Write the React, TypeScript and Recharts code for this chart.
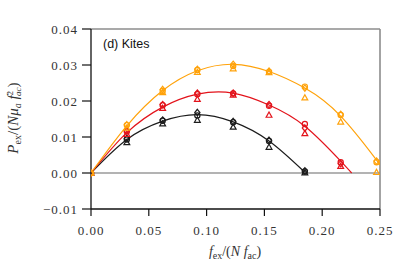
import React from 'react'
import {
  ComposedChart,
  Line,
  Scatter,
  XAxis,
  YAxis,
  ReferenceLine,
} from 'recharts'

// excitation frequencies of the measured points
const fex = [0, 0.031, 0.062, 0.092, 0.123, 0.154, 0.185, 0.216, 0.247]

// measured power, three runs per kite count
const orangeCircle = [0, 0.0133, 0.0228, 0.0286, 0.0297, 0.0281, 0.024, 0.0161, 0.003]
const orangeDiamond = [0, 0.0134, 0.0232, 0.0288, 0.0302, 0.0283, 0.0236, 0.0163, 0.0033]
const orangeTriangle = [0, 0.0125, 0.0224, 0.028, 0.029, 0.0279, 0.0209, 0.0142, 0.0002]

const redCircle = [0, 0.0115, 0.0188, 0.0219, 0.0221, 0.0187, 0.0136, 0.003]
const redDiamond = [0, 0.0117, 0.019, 0.0222, 0.0222, 0.019, 0.0125, 0.0026]
const redTriangle = [0, 0.0108, 0.018, 0.0205, 0.0217, 0.0161, 0.011, 0.0019]

const blackCircle = [0, 0.0093, 0.0145, 0.016, 0.0141, 0.0089, 0.0004]
const blackDiamond = [0, 0.0096, 0.0147, 0.0168, 0.0143, 0.0091, 0.0006]
const blackTriangle = [0, 0.0085, 0.0137, 0.0147, 0.0128, 0.0072, 0.0001]

// fitted curves
const orangeFitX = [0, 0.031, 0.062, 0.092, 0.123, 0.154, 0.185, 0.216, 0.247, 0.25]
const orangeFitY = [0, 0.0131, 0.0229, 0.0284, 0.0302, 0.0282, 0.0236, 0.0158, 0.0036, 0.0024]
const redFitX = [0, 0.031, 0.062, 0.092, 0.123, 0.154, 0.185, 0.216, 0.2255]
const redFitY = [0, 0.0112, 0.0183, 0.0219, 0.0222, 0.0189, 0.013, 0.0033, 0]
const blackFitX = [0, 0.031, 0.062, 0.092, 0.123, 0.154, 0.185]
const blackFitY = [0, 0.0093, 0.0144, 0.0162, 0.0142, 0.0089, 0.0002]

const xTicks = [0, 0.05, 0.1, 0.15, 0.2, 0.25]
const yTicks = [-0.01, 0, 0.01, 0.02, 0.03, 0.04]

const ORANGE = '#ffa20a'
const RED = '#e3131b'
const BLACK = '#1c1c1c'

const pts = (ys: number[], xs: number[] = fex) => ys.map((y, i) => ({ x: xs[i], y }))

const tickFont = { fontFamily: 'Liberation Serif', fontSize: 13, fill: '#333', letterSpacing: 1 }

const fmt = (v: number) => (v < 0 ? '\u2212' + Math.abs(v).toFixed(2) : v.toFixed(2))

const circleShape = (color: string) => (p: any) => (
  <circle cx={p.cx} cy={p.cy} r={2.6} fill="none" stroke={color} strokeWidth={1.2} />
)
const diamondShape = (color: string) => (p: any) => (
  <path
    d={`M${p.cx},${p.cy - 3.2}L${p.cx + 2.6},${p.cy}L${p.cx},${p.cy + 3.2}L${p.cx - 2.6},${p.cy}Z`}
    fill="none"
    stroke={color}
    strokeWidth={1.2}
  />
)
const triangleShape = (color: string) => (p: any) => (
  <path
    d={`M${p.cx},${p.cy - 3}L${p.cx + 2.9},${p.cy + 2.2}L${p.cx - 2.9},${p.cy + 2.2}Z`}
    fill="none"
    stroke={color}
    strokeWidth={1.2}
  />
)

const series = [
  { name: 'bc', data: pts(blackCircle), shape: circleShape(BLACK) },
  { name: 'bd', data: pts(blackDiamond), shape: diamondShape(BLACK) },
  { name: 'bt', data: pts(blackTriangle), shape: triangleShape(BLACK) },
  { name: 'rc', data: pts(redCircle), shape: circleShape(RED) },
  { name: 'rd', data: pts(redDiamond), shape: diamondShape(RED) },
  { name: 'rt', data: pts(redTriangle), shape: triangleShape(RED) },
  { name: 'oc', data: pts(orangeCircle), shape: circleShape(ORANGE) },
  { name: 'od', data: pts(orangeDiamond), shape: diamondShape(ORANGE) },
  { name: 'ot', data: pts(orangeTriangle), shape: triangleShape(ORANGE) },
]

const fits = [
  { name: 'fit-black', data: pts(blackFitY, blackFitX), color: BLACK },
  { name: 'fit-red', data: pts(redFitY, redFitX), color: RED },
  { name: 'fit-orange', data: pts(orangeFitY, orangeFitX), color: ORANGE },
]

export default function App() {
  const serif = 'Liberation Serif'
  return (
    <div style={{ position: 'absolute', left: 0, top: 0, width: 395, height: 269, background: '#fff' }}>
      <ComposedChart width={395} height={269} margin={{ top: 29, right: 15, bottom: 30, left: 31 }}>
        <XAxis
          type="number"
          dataKey="x"
          domain={[0, 0.25]}
          ticks={xTicks}
          tickFormatter={fmt}
          height={30}
          tick={tickFont}
          tickSize={7}
          tickMargin={10}
          axisLine={{ stroke: '#111', strokeWidth: 1.3 }}
          tickLine={{ stroke: '#111', strokeWidth: 1.2 }}
          allowDataOverflow
        />
        <YAxis
          type="number"
          dataKey="y"
          domain={[-0.01, 0.04]}
          ticks={yTicks}
          tickFormatter={fmt}
          width={60}
          tick={tickFont}
          tickSize={9}
          tickMargin={4}
          axisLine={{ stroke: '#111', strokeWidth: 1.3 }}
          tickLine={{ stroke: '#111', strokeWidth: 1.2 }}
          allowDataOverflow
        />
        <ReferenceLine y={0} stroke="#9a9a9a" strokeWidth={1.5} />
        <ReferenceLine y={0.04} stroke="#8c8c8c" strokeWidth={1.6} />
        <ReferenceLine x={0.25} stroke="#8c8c8c" strokeWidth={1.6} />
        {fits.map((f) => (
          <Line
            key={f.name}
            data={f.data}
            dataKey="y"
            type="natural"
            stroke={f.color}
            strokeWidth={1.2}
            dot={false}
            activeDot={false}
            isAnimationActive={false}
          />
        ))}
        {series.map((s) => (
          <Scatter
            key={s.name}
            data={s.data}
            dataKey="y"
            shape={s.shape}
            isAnimationActive={false}
          />
        ))}
      </ComposedChart>
      <svg
        width={395}
        height={269}
        style={{ position: 'absolute', left: 0, top: 0, pointerEvents: 'none' }}
      >
        <text x={103} y={48} fontFamily="Liberation Sans" fontSize={12.5} fill="#111">
          (d)  Kites
        </text>
        <text x={235} y={256} textAnchor="middle" fontFamily={serif} fontSize={14} fill="#333">
          <tspan fontStyle="italic">f</tspan>
          <tspan fontSize={10} dy={3}>ex</tspan>
          <tspan dy={-3}>/(</tspan>
          <tspan fontStyle="italic">N f</tspan>
          <tspan fontSize={10} dy={3}>ac</tspan>
          <tspan dy={-3}>)</tspan>
        </text>
        <text
          x={18}
          y={118}
          transform="rotate(-90, 18, 118)"
          textAnchor="middle"
          fontFamily={serif}
          fontSize={15}
          fill="#333"
        >
          <tspan fontStyle="italic">P</tspan>
          <tspan fontSize={10} dy={3}>ex</tspan>
          <tspan dy={-3}>/(</tspan>
          <tspan fontStyle="italic">Nμ</tspan>
          <tspan fontSize={10} fontStyle="italic" dy={3}>a</tspan>
          <tspan fontStyle="italic" dy={-3}> f</tspan>
          <tspan fontSize={9} dy={-5}>2</tspan>
          <tspan fontSize={9} fontStyle="italic" dx={-5} dy={8}>ac</tspan>
          <tspan dy={-3}>)</tspan>
        </text>
      </svg>
    </div>
  )
}
